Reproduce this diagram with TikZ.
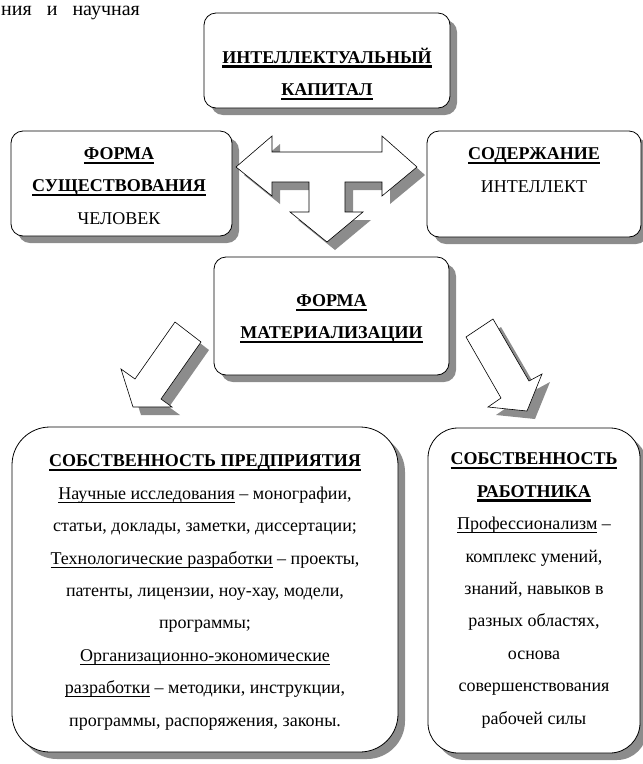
\documentclass[tikz,border=0pt]{standalone}
\usepackage{fontspec}
\setmainfont{Liberation Serif}
\usetikzlibrary{shadows}

\definecolor{sombra}{gray}{0.55}

\newcommand\titulo[1]{{\setbox0\hbox{\bfseries #1}\rlap{\rule[-4.5pt]{\wd0}{2.4pt}}\box0}}
\newcommand\sublinha[1]{{\setbox0\hbox{#1}\rlap{\rule[-3.4pt]{\wd0}{0.8pt}}\box0}}

\tikzset{
        caixa/.style={draw, line width=0.8pt, fill=white, rounded corners=12pt,
                drop shadow={shadow xshift=7pt, shadow yshift=-7pt, fill=sombra, opacity=1}},
        seta/.style={draw, line width=0.6pt, fill=white,
                drop shadow={shadow xshift=8pt, shadow yshift=-8pt, fill=sombra, opacity=1}},
        texto/.style={align=center, inner sep=0pt, font=\fontsize{18}{32.4}\selectfont}
}

\begin{document}
\begin{tikzpicture}[x=1pt, y=-1pt]
        \useasboundingbox (0,0) rectangle (643,764);

        \node[anchor=base west, inner sep=0pt, text height=9pt, font=\fontsize{20}{20}\selectfont] (fragmento) at (1,15) {ния\ \ \ и\ \ \ научная};

        \node[caixa, minimum width=246pt, minimum height=95pt] (capital) at (327,60.5) {};
        \node[texto] (capital-t) at (327,74) {\titulo{ИНТЕЛЛЕКТУАЛЬНЫЙ}\\ \titulo{КАПИТАЛ}};

        \node[caixa, minimum width=221pt, minimum height=105pt] (existencia) at (121.5,183.5) {};
        \node[texto] (existencia-t) at (119,186) {\titulo{ФОРМА}\\ \titulo{СУЩЕСТВОВАНИЯ}\\ ЧЕЛОВЕК};

        \node[caixa, minimum width=214pt, minimum height=106pt] (conteudo) at (534,184) {};
        \node[texto] (conteudo-t) at (534,170) {\titulo{СОДЕРЖАНИЕ}\\ ИНТЕЛЛЕКТ};

        \path[seta] (236,167) -- (272,136) -- (272,152) -- (382,152) -- (382,136) -- (417,167)
                -- (382,196) -- (382,182) -- (345,182) -- (345,212) -- (363,212) -- (327,242)
                -- (290,212) -- (309,212) -- (309,182) -- (272,182) -- (272,196) -- cycle;

        \node[caixa, minimum width=235pt, minimum height=118pt] (materializacao) at (331.5,316) {};
        \node[texto] (materializacao-t) at (331.5,319) {\titulo{ФОРМА}\\ \titulo{МАТЕРИАЛИЗАЦИИ}};

        \path[seta] (175,322) -- (201,342) -- (161,399) -- (172,407) -- (133,407) -- (121,369) -- (135,379) -- cycle;
        \path[seta] (493,319) -- (466,337) -- (501,398) -- (488,407) -- (527,411) -- (542,374) -- (529,381) -- cycle;

        \node[caixa, rounded corners=38pt, minimum width=386pt, minimum height=325pt] (empresa) at (205,589.5) {};
        \node[texto] (empresa-t) at (205,592.5) {\titulo{СОБСТВЕННОСТЬ ПРЕДПРИЯТИЯ}\\
                \sublinha{Научные исследования} – монографии,\\
                статьи, доклады, заметки, диссертации;\\
                \sublinha{Технологические разработки} – проекты,\\
                патенты, лицензии, ноу-хау, модели,\\
                программы;\\
                \sublinha{Организационно-экономические}\\
                \sublinha{разработки} – методики, инструкции,\\
                программы, распоряжения, законы.};

        \node[caixa, rounded corners=30pt, minimum width=212pt, minimum height=325pt] (trabalhador) at (534,590.5) {};
        \node[texto] (trabalhador-t) at (534,590.5) {\titulo{СОБСТВЕННОСТЬ}\\
                \titulo{РАБОТНИКА}\\
                \sublinha{Профессионализм} –\\
                комплекс умений,\\
                знаний, навыков в\\
                разных областях,\\
                основа\\
                совершенствования\\
                рабочей силы};
\end{tikzpicture}
\end{document}
